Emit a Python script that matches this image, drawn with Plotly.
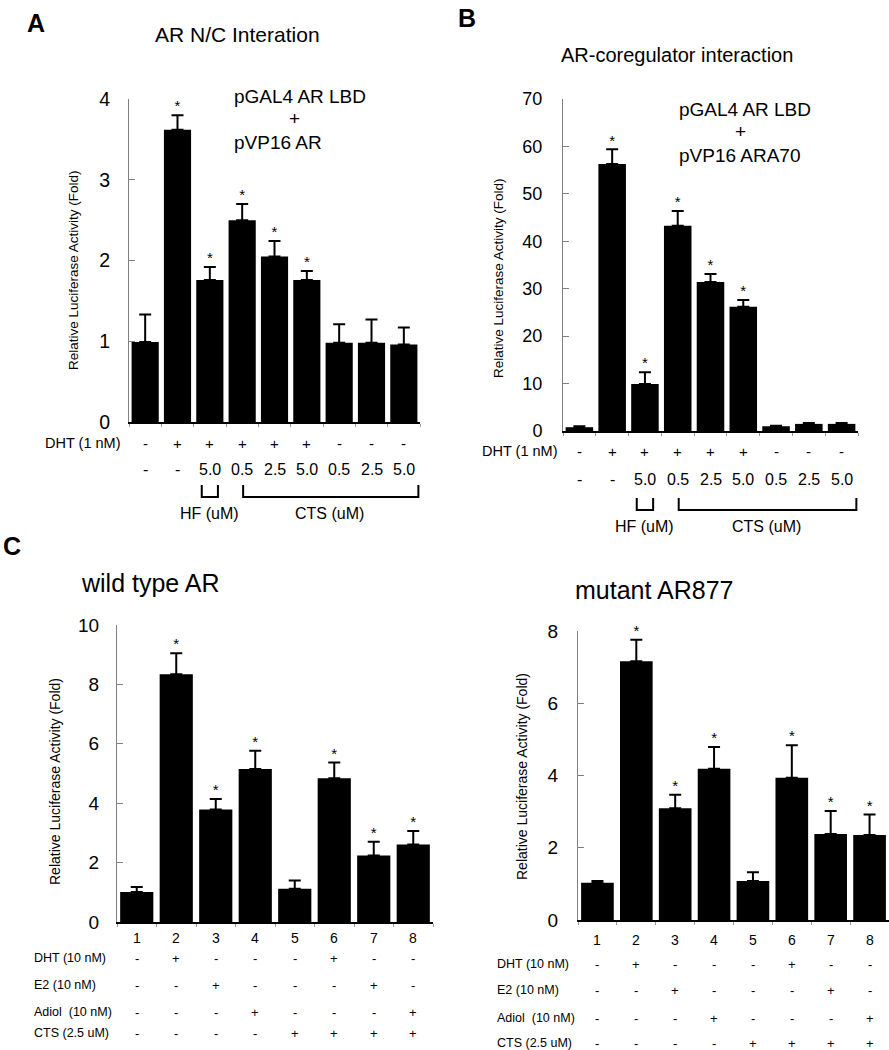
import plotly.graph_objects as go

W, H = 889, 1050
FONT = "Liberation Sans, Arial, sans-serif"


def px(x):
    return x / W


def py(y):
    return 1 - y / H


# ---------------- data ----------------
# Panel A: AR N/C interaction
a_vals = [0.99, 3.62, 1.76, 2.50, 2.05, 1.76, 0.98, 0.98, 0.96]
a_err = [0.34, 0.18, 0.16, 0.20, 0.19, 0.11, 0.23, 0.29, 0.21]
a_sig = ["", "*", "*", "*", "*", "*", "", "", ""]
a_ticks = [0, 1, 2, 3, 4]

# Panel B: AR-coregulator interaction
b_vals = [0.8, 56.3, 9.9, 43.3, 31.4, 26.2, 1.0, 1.5, 1.5]
b_err = [0.2, 3.1, 2.5, 3.1, 1.7, 1.4, 0.1, 0.2, 0.2]
b_sig = ["", "*", "*", "*", "*", "*", "", "", ""]
b_ticks = [0, 10, 20, 30, 40, 50, 60, 70]

ab_dht = ["-", "+", "+", "+", "+", "+", "-", "-", "-"]
ab_dose = ["-", "-", "5.0", "0.5", "2.5", "5.0", "0.5", "2.5", "5.0"]

# Panel C: wild type AR / mutant AR877
c_lanes = ["1", "2", "3", "4", "5", "6", "7", "8"]
cw_vals = [1.01, 8.34, 3.79, 5.15, 1.12, 4.84, 2.24, 2.61]
cw_err = [0.17, 0.71, 0.35, 0.62, 0.28, 0.53, 0.46, 0.45]
cw_sig = ["", "*", "*", "*", "", "*", "*", "*"]
cw_ticks = [0, 2, 4, 6, 8, 10]

cm_vals = [1.03, 7.16, 3.09, 4.19, 1.08, 3.94, 2.38, 2.35]
cm_err = [0.05, 0.60, 0.38, 0.60, 0.24, 0.90, 0.64, 0.57]
cm_sig = ["", "*", "*", "*", "", "*", "*", "*"]
cm_ticks = [0, 2, 4, 6, 8]

c_dht = ["-", "+", "-", "-", "-", "+", "-", "-"]
c_e2 = ["-", "-", "+", "-", "-", "-", "+", "-"]
c_adiol = ["-", "-", "-", "+", "-", "-", "-", "+"]
c_cts = ["-", "-", "-", "-", "+", "+", "+", "+"]

# ---------------- panels ----------------
panels = [
    dict(ax="", vals=a_vals, err=a_err, sig=a_sig, ticks=a_ticks,
         xpx=(129, 420), ypx=(422, 99), tfs=19.5, stand=14),
    dict(ax="2", vals=b_vals, err=b_err, sig=b_sig, ticks=b_ticks,
         xpx=(563, 858), ypx=(431, 99), tfs=18, stand=16),
    dict(ax="3", vals=cw_vals, err=cw_err, sig=cw_sig, ticks=cw_ticks,
         xpx=(117, 433), ypx=(922, 625), tfs=19, stand=13),
    dict(ax="4", vals=cm_vals, err=cm_err, sig=cm_sig, ticks=cm_ticks,
         xpx=(578, 889), ypx=(920, 631), tfs=19, stand=15),
]

fig = go.Figure()
layout = dict(
    template="none",
    width=W, height=H, margin=dict(l=0, r=0, t=0, b=0, pad=0),
    paper_bgcolor="white", plot_bgcolor="white", showlegend=False,
    font=dict(family=FONT, color="black"),
    bargap=0.16,
)

for p in panels:
    n = len(p["vals"])
    xs = list(range(n))
    xa = "x" + p["ax"]
    ya = "y" + p["ax"]
    fig.add_trace(go.Bar(
        x=xs, y=p["vals"], xaxis=xa, yaxis=ya,
        marker=dict(color="black", line=dict(width=0)),
        error_y=dict(type="data", array=p["err"], arrayminus=[0] * n,
                     symmetric=False, color="black", thickness=2, width=6),
        hoverinfo="skip",
    ))
    tops = [v + e for v, e in zip(p["vals"], p["err"])]
    fig.add_trace(go.Scatter(
        x=xs, y=tops, xaxis=xa, yaxis=ya, mode="text", text=p["sig"],
        textposition="top center", textfont=dict(size=15, color="black"),
        cliponaxis=False, hoverinfo="skip",
    ))
    layout["xaxis" + p["ax"]] = dict(
        domain=[px(p["xpx"][0]), px(p["xpx"][1])],
        range=[-0.5, n - 0.5], anchor=ya, automargin=False,
        showline=True, linecolor="black", linewidth=2,
        tickmode="array", tickvals=[i - 0.5 for i in range(n + 1)],
        ticks="outside", ticklen=3, tickcolor="#999999", showticklabels=False,
        showgrid=False, zeroline=False, fixedrange=True,
    )
    layout["yaxis" + p["ax"]] = dict(
        domain=[py(p["ypx"][0]), py(p["ypx"][1])],
        range=[0, p["ticks"][-1]], anchor=xa, automargin=False,
        showline=True, linecolor="#808080", linewidth=1,
        tickmode="array", tickvals=p["ticks"],
        ticks="inside", ticklen=6, tickcolor="#808080",
        tickfont=dict(size=p["tfs"], color="black"),
        ticklabelstandoff=p["stand"],
        showgrid=False, zeroline=False, fixedrange=True,
    )

ann = []
shapes = []


def text(x, y, s, size, xanchor="center", xref="paper", bold=False, angle=0):
    ann.append(dict(
        x=x if xref != "paper" else px(x), y=py(y), xref=xref, yref="paper",
        text=f"<b>{s}</b>" if bold else s, showarrow=False,
        xanchor=xanchor, yanchor="middle", textangle=angle, borderpad=0,
        font=dict(size=size, color="black", family=FONT),
    ))


# Panel letters and titles
text(36, 23, "A", 25, bold=True)
text(467, 18, "B", 25, bold=True)
text(12, 546, "C", 25, bold=True)
text(237, 35, "AR N/C Interation", 21)
text(677, 55, "AR-coregulator interaction", 20)
text(150, 583, "wild type AR", 25)
text(654, 590, "mutant AR877", 25)

# construct annotations
text(233, 97, "pGAL4 AR LBD", 19, xanchor="left")
text(294, 119, "+", 19)
text(233, 142, "pVP16 AR", 19, xanchor="left")
text(678, 110, "pGAL4 AR LBD", 19, xanchor="left")
text(740, 132, "+", 19)
text(678, 155, "pVP16 ARA70", 19, xanchor="left")

# y-axis titles
ytitle = "Relative Luciferase Activity (Fold)"
text(73, 270, ytitle, 13.5, angle=-90)
text(498, 278, ytitle, 13.5, angle=-90)
text(55, 782, ytitle, 14, angle=-90)
text(522, 777, ytitle, 14, angle=-90)

# rows under panels A and B
for ax, lab_x, dht_y, dose_y, br_top, br_bot, lab_y in [
    ("x", 121, 443, 469, 485, 497, 513),
    ("x2", 558, 451, 480, 498, 510, 526),
]:
    text(lab_x, dht_y, "DHT (1 nM)", 14.5, xanchor="right")
    for i, s in enumerate(ab_dht):
        text(i, dht_y, s, 15, xref=ax)
    for i, s in enumerate(ab_dose):
        text(i, dose_y, s, 16, xref=ax)
    for x0, x1 in [(1.75, 2.25), (3.03, 8.45)]:
        shapes.append(dict(
            type="path", xref=ax, yref="paper",
            path=f"M {x0},{py(br_top)} L {x0},{py(br_bot)} L {x1},{py(br_bot)} L {x1},{py(br_top)}",
            line=dict(color="black", width=2),
        ))
    text(2, lab_y, "HF (uM)", 16, xref=ax)
    text(5.7, lab_y, "CTS (uM)", 16, xref=ax)

# rows under panel C
c_rows = [("DHT (10 nM)", c_dht), ("E2 (10 nM)", c_e2),
          ("Adiol  (10 nM)", c_adiol), ("CTS (2.5 uM)", c_cts)]
for ax, lab_x, lane_y, row_ys in [
    ("x3", 33, 938, [958, 985, 1012, 1033]),
    ("x4", 496, 940, [964, 990, 1018, 1043]),
]:
    for i, s in enumerate(c_lanes):
        text(i, lane_y, s, 14, xref=ax)
    for (lab, signs), ry in zip(c_rows, row_ys):
        text(lab_x, ry, lab.replace("  ", "&nbsp; "), 12.5, xanchor="left")
        for i, s in enumerate(signs):
            text(i, ry, s, 13, xref=ax)

layout["annotations"] = ann
layout["shapes"] = shapes
fig.update_layout(**layout)
fig.write_html("out.html", config={"displayModeBar": False},
               post_script="document.body.style.margin='0';")
